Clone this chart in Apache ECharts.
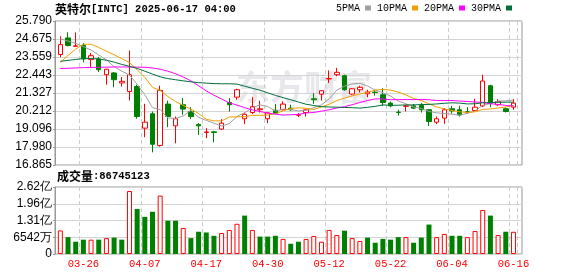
<!DOCTYPE html>
<html><head><meta charset="utf-8">
<script src="https://cdn.jsdelivr.net/npm/echarts@6/dist/echarts.min.js"></script>
<style>html,body{margin:0;padding:0;background:#fff}#c{width:578px;height:276px}</style>
</head><body><div id="c"></div>
<script>
const dates = ['03-21','03-24','03-25','03-26','03-27','03-28','03-31','04-01','04-02','04-03','04-04','04-07','04-08','04-09','04-10','04-11','04-14','04-15','04-16','04-17','04-21','04-22','04-23','04-24','04-25','04-28','04-29','04-30','05-01','05-02','05-05','05-06','05-07','05-08','05-09','05-12','05-13','05-14','05-15','05-16','05-19','05-20','05-21','05-22','05-23','05-27','05-28','05-29','05-30','06-02','06-03','06-04','06-05','06-06','06-09','06-10','06-11','06-12','06-13','06-16'];
const opens  = [23.71,24.74,24.22,24.28,23.40,23.44,22.46,22.57,21.95,21.42,21.73,19.15,20.04,18.07,20.64,19.29,20.60,20.18,19.37,18.88,18.92,19.09,20.74,21.07,19.73,20.12,20.29,19.73,20.26,20.29,20.39,19.95,20.12,20.97,21.26,22.20,22.46,22.40,21.26,21.53,21.28,21.38,21.22,20.70,20.14,20.50,20.53,20.55,20.29,19.52,19.77,20.35,20.29,20.16,20.24,20.53,21.78,20.60,20.35,20.45];
const closes = [24.33,24.27,24.25,23.44,23.64,22.77,22.80,22.15,22.05,22.46,19.87,19.52,18.15,21.49,19.87,19.73,20.33,19.87,19.29,18.91,18.88,19.46,20.60,21.53,20.01,20.48,20.35,20.10,20.08,20.64,20.29,19.97,20.29,20.91,21.47,22.22,22.61,21.53,21.59,21.68,21.39,21.36,20.74,20.53,20.12,20.53,20.39,20.29,19.56,19.73,20.29,20.22,19.97,20.14,20.45,22.07,20.70,20.80,20.18,20.70];
const lows   = [23.54,24.22,24.20,23.23,22.94,22.63,21.84,21.68,21.73,20.86,19.73,18.59,17.65,18.00,19.21,18.21,19.98,19.71,18.73,18.53,18.28,19.04,20.18,20.91,19.40,20.02,20.12,19.46,20.02,20.24,20.22,19.83,19.87,20.66,20.86,21.95,22.36,21.47,21.22,21.36,21.07,21.16,20.53,20.45,19.93,20.18,20.33,20.12,19.29,19.40,19.42,20.04,19.87,20.04,20.18,20.45,20.45,20.53,20.12,20.29];
const highs  = [24.84,25.09,25.08,24.43,23.81,23.56,22.82,22.63,22.32,23.96,21.84,20.66,20.18,21.78,20.85,19.87,21.01,20.45,19.46,19.15,18.98,19.71,21.01,21.59,20.12,21.07,20.85,20.14,20.64,20.81,20.60,20.08,20.33,21.32,21.47,22.73,22.88,22.46,21.63,21.78,21.53,21.49,21.63,20.80,20.29,20.60,20.64,20.70,20.33,19.87,20.39,20.53,20.53,20.45,20.97,22.46,21.84,20.95,20.43,20.95];
const ma5  = [24.68,24.55,24.40,24.20,23.99,23.68,23.38,22.96,22.68,22.44,21.87,21.22,20.42,20.30,19.78,19.75,19.91,20.26,19.82,19.63,19.46,19.28,19.43,19.88,20.10,20.42,20.59,20.49,20.20,20.33,20.30,20.22,20.26,20.42,20.59,20.97,21.50,21.75,21.88,21.93,21.76,21.51,21.35,21.14,20.83,20.66,20.46,20.37,20.18,20.10,20.05,20.02,19.95,20.07,20.21,20.57,20.67,20.83,20.84,20.89];
const ma10 = [23.23,23.65,24.05,24.35,24.35,24.15,23.92,23.70,23.46,23.21,22.77,22.29,21.68,21.48,21.11,20.80,20.56,20.33,20.06,19.70,19.60,19.60,19.84,19.85,19.86,19.94,19.94,19.96,20.04,20.22,20.36,20.41,20.38,20.31,20.46,20.63,20.86,21.01,21.15,21.26,21.37,21.51,21.55,21.51,21.38,21.21,20.99,20.86,20.66,20.46,20.35,20.24,20.16,20.12,20.16,20.31,20.34,20.39,20.46,20.55];
const ma20 = [22.84,22.86,22.88,22.90,22.91,22.92,22.93,22.94,22.94,22.94,22.93,22.92,22.88,22.80,22.68,22.52,22.32,22.08,21.78,21.46,21.19,20.95,20.72,20.58,20.42,20.28,20.18,20.08,20.02,19.96,19.98,20.00,20.09,20.12,20.20,20.29,20.40,20.48,20.60,20.74,20.86,20.96,20.96,20.91,20.92,20.92,20.92,20.93,20.91,20.86,20.86,20.86,20.83,20.80,20.77,20.74,20.66,20.62,20.56,20.52];
const ma30 = [23.29,23.35,23.41,23.46,23.46,23.44,23.36,23.24,23.10,22.98,22.85,22.68,22.50,22.33,22.22,22.15,22.08,22.02,21.97,21.94,21.91,21.90,21.90,21.88,21.75,21.62,21.50,21.34,21.18,21.04,20.91,20.77,20.63,20.55,20.48,20.46,20.45,20.43,20.42,20.39,20.44,20.50,20.59,20.56,20.57,20.59,20.59,20.61,20.62,20.65,20.69,20.72,20.70,20.65,20.66,20.72,20.73,20.75,20.76,20.76];
// volume in millions of shares
const volumeM = [92,66,48,56,56,56,62,64,56,246,176,145,165,228,130,130,102,62,87,84,71,82,94,118,150,94,68,68,71,59,40,48,59,70,48,94,74,91,62,51,64,44,59,56,66,66,44,64,115,66,78,71,71,66,90,172,150,74,87,86.745123];
// 1 = up day (red hollow), 0 = down day (green)
const volUp = [1,0,0,0,1,0,1,0,0,1,0,0,0,1,0,0,1,0,0,0,0,1,1,1,0,1,0,0,0,1,0,0,1,1,1,1,1,0,1,1,0,0,0,0,0,1,0,0,0,1,1,0,0,1,1,1,0,1,0,1];
const priceTicks = ['16.865','17.980','19.096','20.212','21.327','22.443','23.559','24.675','25.790'];
const volTicks = ['0','6542万','1.31亿','1.96亿','2.62亿'];
const seriesNames = ['5PMA','10PMA','20PMA','30PMA'];

const priceMin = 16.865, priceMax = 25.79, priceStep = (priceMax - priceMin) / 8;
const volMax = 261.68, volStep = 65.42;
const RED = '#ff0000', GREEN = '#008000';
const maColors = ['#a0a0a0', '#f0a000', '#ff00ff', '#006f3c'];
const labelIdx = (i) => (i - 3) % 8 === 0;
const MONO = '"Liberation Mono", "DejaVu Sans Mono", monospace';

const chart = echarts.init(document.getElementById('c'), null, {renderer: 'canvas'});
const frameL = 55, frameW = 467, dataL = 56.5, dataW = 460.8;
const axisFont = {fontFamily: '"Liberation Sans", Arial, sans-serif', fontSize: 12, color: '#000'};
const frameY = (min, max, step, ticks) => ({
  type: 'value', min: min, max: max, interval: step,
  axisLine: {show: true, lineStyle: {color: '#999'}},
  axisTick: {show: true, length: 2, lineStyle: {color: '#999'}},
  axisLabel: Object.assign({margin: 3, formatter: (v) => ticks[Math.round((v - min) / step)]}, axisFont),
  splitLine: {show: true, lineStyle: {color: '#d4d4d4', width: 1}}
});
const hiddenY = (min, max) => ({type: 'value', min: min, max: max, show: false});
const dataX = (grid, showLabels) => ({
  type: 'category', gridIndex: grid, data: dates, boundaryGap: true,
  axisLine: {show: false}, axisTick: {show: false},
  axisLabel: {show: showLabels, interval: (i) => labelIdx(i), color: RED, margin: 5,
              fontFamily: MONO, fontSize: 10.5},
  splitLine: {show: true, interval: (i) => labelIdx(i), lineStyle: {color: '#cccccc', type: [4, 3]}}
});
const titleRich = {a: {fontFamily: '"Noto Sans CJK SC"', fontSize: 12, color: '#000'},
                   b: {fontFamily: MONO, fontSize: 10.5, color: '#000'}};

const option = {
  animation: false,
  backgroundColor: '#fff',
  title: [
    {left: 55, top: 3, padding: 0,
     text: '{a|英特尔}{b|[INTC] 2025-06-17 04:00}', textStyle: {rich: titleRich}},
    {left: 57, top: 170, padding: 0,
     text: '{a|成交量}{b|:' + Math.round(volumeM[volumeM.length - 1] * 1e6) + '}', textStyle: {rich: titleRich}}
  ],
  legend: {
    left: 336, top: 3, padding: 0, itemGap: 6, itemWidth: 6, itemHeight: 5, align: 'right', icon: 'rect',
    selectedMode: false,
    textStyle: {fontFamily: MONO, fontSize: 10, color: '#000', padding: 0},
    data: seriesNames
  },
  graphic: [
    {type: 'text', left: 236, top: 70, silent: true, z: 0,
     style: {text: '东方财富', fill: '#e8e8ec', font: 'bold 34px "Noto Sans CJK SC"'}}
  ],
  grid: [
    {left: frameL, top: 21, width: frameW, height: 144, show: true, borderColor: '#999', borderWidth: 1},
    {left: dataL, top: 21, width: dataW, height: 144},
    {left: frameL, top: 187, width: frameW, height: 67, show: true, borderColor: '#999', borderWidth: 1},
    {left: dataL, top: 187, width: dataW, height: 67}
  ],
  xAxis: [
    {type: 'value', gridIndex: 0, show: false},
    dataX(1, false),
    {type: 'value', gridIndex: 2, show: false},
    dataX(3, true)
  ],
  yAxis: [
    Object.assign({gridIndex: 0}, frameY(priceMin, priceMax, priceStep, priceTicks)),
    Object.assign({gridIndex: 1}, hiddenY(priceMin, priceMax)),
    Object.assign({gridIndex: 2}, frameY(0, volMax, volStep, volTicks)),
    Object.assign({gridIndex: 3}, hiddenY(0, volMax))
  ],
  series: [
    {type: 'candlestick', xAxisIndex: 1, yAxisIndex: 1, barWidth: 5,
     data: dates.map((d, i) => [opens[i], closes[i], lows[i], highs[i]]),
     itemStyle: {color: '#ffffff', color0: GREEN, borderColor: RED, borderColor0: GREEN, borderWidth: 1}},
    ...[ma5, ma10, ma20, ma30].map((arr, k) => ({
      name: seriesNames[k], type: 'line', xAxisIndex: 1, yAxisIndex: 1, data: arr,
      showSymbol: false, symbol: 'none', smooth: false,
      lineStyle: {width: 1, color: maColors[k]}, itemStyle: {color: maColors[k]}
    })),
    {type: 'bar', xAxisIndex: 3, yAxisIndex: 3, barWidth: 5,
     data: volumeM.map((v, i) => ({value: v, itemStyle: volUp[i]
       ? {color: '#ffffff', borderColor: RED, borderWidth: 1}
       : {color: GREEN, borderWidth: 0}}))}
  ]
};
chart.setOption(option);
</script></body></html>
